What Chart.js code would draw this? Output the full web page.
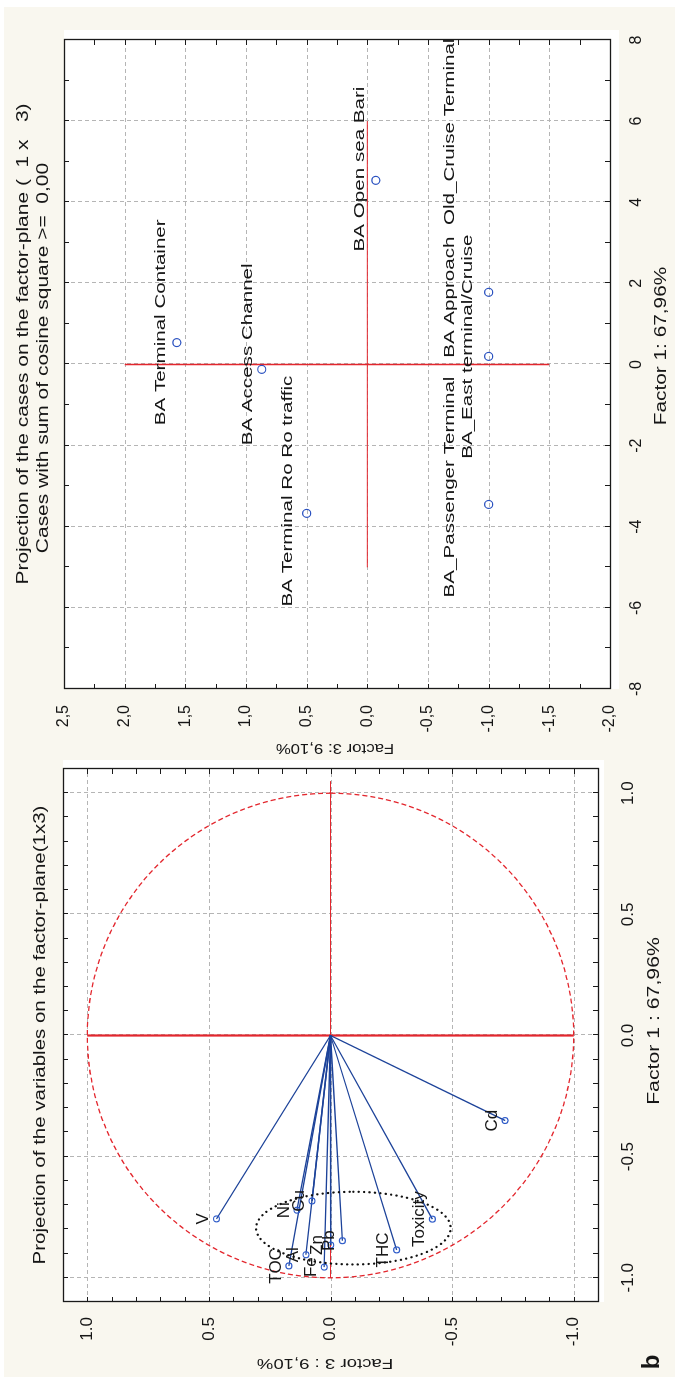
<!DOCTYPE html>
<html>
<head>
<meta charset="utf-8">
<script src="https://cdn.jsdelivr.net/npm/chart.js@4.4.1/dist/chart.umd.min.js"></script>
<style>
  html, body { margin: 0; padding: 0; width: 675px; height: 1380px; overflow: hidden; background: #fff; }
  #panel { position: absolute; left: 4px; top: 7px; width: 671px; height: 1370px; background: #f9f7ef; }
  /* the figure is drawn landscape and turned a quarter to the left */
  #wrap { position: absolute; left: 0; top: 0; width: 1380px; height: 675px;
          transform-origin: 0 0; transform: translateY(1380px) rotate(-90deg); }
  canvas { position: absolute; top: 0; }
  #varChart { left: 0; }
  #caseChart { left: 622px; }
</style>
</head>
<body>
<div id="panel"></div>
<div id="wrap">
  <canvas id="varChart" width="622" height="675"></canvas>
  <canvas id="caseChart" width="758" height="675"></canvas>
</div>
<script>
const FONT = '"Liberation Sans", Arial, sans-serif';
const RED = '#e3262d';
const GRID = '#b5b5b5';
const INK = '#161616';

// projection of the variables (factor 1 x factor 3)
const varNames = ['V', 'Ni', 'Cu', 'TOC', 'Al', 'Fe', 'Zn', 'Pb', 'THC', 'Toxicity', 'Cd'];
const varF1 = [-0.757, -0.721, -0.683, -0.951, -0.905, -0.956, -0.865, -0.847, -0.885, -0.758, -0.351];
const varF3 = [0.469, 0.138, 0.076, 0.171, 0.101, 0.026, -0.001, -0.049, -0.272, -0.419, -0.718];
const varTicks = [-1, -0.5, 0, 0.5, 1];
const varCrossF1 = [-1, 1.05];
const varCrossF3 = [-1, 1];
const clusterCentre = [-0.795, -0.094];
const clusterRadii = [0.15, 0.40];

// projection of the cases
const caseNames = ['BA Open sea Bari', 'BA Terminal Container', 'BA Access Channel',
  'BA Terminal Ro Ro traffic', 'BA_Passenger Terminal', 'BA Approach  Old_Cruise Terminal',
  'BA_East terminal/Cruise'];
const caseF1 = [4.54, 0.54, -0.12, -3.67, -3.45, 1.78, 0.20];
const caseF3 = [-0.07, 1.57, 0.87, 0.50, -1.00, -1.00, -1.00];
const caseLabelF1 = [4.82, 1.04, 0.25, -3.12, -3.02, 4.10, 0.44];
const caseLabelF3 = [0.06, 1.70, 0.98, 0.65, -0.68, -0.68, -0.83];
const caseTicksF1 = [-8, -6, -4, -2, 0, 2, 4, 6, 8];
const caseTicksF3 = [-2, -1.5, -1, -0.5, 0, 0.5, 1, 1.5, 2, 2.5];
const caseCrossF1 = [-5, 6];
const caseCrossF3 = [-1.5, 2];

function text(ctx, str, x, y, size, sx = 1, rot = 0, weight = '') {
  ctx.save();
  ctx.translate(x, y);
  if (rot) ctx.rotate(rot);
  ctx.scale(sx, 1);
  ctx.font = `${weight} ${size}px ${FONT}`;
  ctx.fillStyle = INK;
  ctx.textAlign = 'center';
  ctx.textBaseline = 'middle';
  ctx.fillText(str, 0, 0);
  ctx.restore();
}

function whiteBox(chart, extraX, extraY) {
  const { ctx, chartArea: a } = chart;
  ctx.save();
  ctx.fillStyle = '#fff';
  ctx.fillRect(a.left, a.top, a.width + extraX, a.height + extraY);
  ctx.restore();
}

function drawGrid(chart, xs, ys) {
  const { ctx, chartArea: a, scales: { x, y } } = chart;
  ctx.save();
  ctx.strokeStyle = GRID;
  ctx.lineWidth = 1;
  ctx.setLineDash([4, 3]);
  ctx.beginPath();
  xs.forEach(v => {
    const p = Math.round(x.getPixelForValue(v)) + 0.5;
    if (p > a.left + 2 && p < a.right - 2) { ctx.moveTo(p, a.top); ctx.lineTo(p, a.bottom); }
  });
  ys.forEach(v => {
    const p = Math.round(y.getPixelForValue(v)) + 0.5;
    if (p > a.top + 2 && p < a.bottom - 2) { ctx.moveTo(a.left, p); ctx.lineTo(a.right, p); }
  });
  ctx.stroke();
  ctx.restore();
}

function drawFrame(chart, stepX, stepY) {
  const { ctx, chartArea: a, scales: { x, y } } = chart;
  ctx.save();
  ctx.strokeStyle = '#1a1a1a';
  ctx.lineWidth = 1.3;
  ctx.strokeRect(a.left + 0.5, a.top + 0.5, a.width, a.height);
  ctx.lineWidth = 1;
  ctx.beginPath();
  for (let i = Math.ceil(x.min / stepX - 1e-6); i * stepX <= x.max + 1e-6; i++) {
    const p = Math.round(x.getPixelForValue(i * stepX)) + 0.5;
    ctx.moveTo(p, a.bottom); ctx.lineTo(p, a.bottom - 5);
    ctx.moveTo(p, a.top); ctx.lineTo(p, a.top + 5);
  }
  for (let i = Math.ceil(y.min / stepY - 1e-6); i * stepY <= y.max + 1e-6; i++) {
    const p = Math.round(y.getPixelForValue(i * stepY)) + 0.5;
    ctx.moveTo(a.left, p); ctx.lineTo(a.left + 5, p);
    ctx.moveTo(a.right, p); ctx.lineTo(a.right - 5, p);
  }
  ctx.stroke();
  ctx.restore();
}

function redLine(chart, x1, y1, x2, y2, w) {
  const { ctx, scales: { x, y } } = chart;
  ctx.save();
  ctx.strokeStyle = RED;
  ctx.lineWidth = w;
  ctx.beginPath();
  ctx.moveTo(x.getPixelForValue(x1), y.getPixelForValue(y1));
  ctx.lineTo(x.getPixelForValue(x2), y.getPixelForValue(y2));
  ctx.stroke();
  ctx.restore();
}

function axis(min, max, ticks, fmt, size, pad, fit) {
  return {
    type: 'linear', min, max,
    afterBuildTicks: s => { s.ticks = ticks.map(v => ({ value: v })); },
    afterFit: fit,
    grid: { display: false },
    border: { display: false },
    ticks: { color: INK, font: { family: FONT, size }, padding: pad, maxRotation: 0, autoSkip: false, callback: fmt }
  };
}

const varDecor = {
  id: 'varDecor',
  beforeDraw(chart) { whiteBox(chart, 9, 6); },
  beforeDatasetsDraw(chart) {
    const { ctx, scales: { x, y } } = chart;
    drawGrid(chart, varTicks, varTicks);
    const x0 = x.getPixelForValue(0), y0 = y.getPixelForValue(0);
    ctx.save();
    ctx.strokeStyle = RED;
    ctx.lineWidth = 1.3;
    ctx.setLineDash([5, 3]);
    ctx.beginPath();
    ctx.ellipse(x0, y0, x.getPixelForValue(1) - x0, y0 - y.getPixelForValue(1), 0, 0, Math.PI * 2);
    ctx.stroke();
    ctx.restore();
    redLine(chart, varCrossF1[0], 0, varCrossF1[1], 0, 1);
    redLine(chart, 0, varCrossF3[0], 0, varCrossF3[1], 2.2);
  },
  afterDatasetsDraw(chart) {
    const { ctx, scales: { x, y } } = chart;
    const cx = x.getPixelForValue(clusterCentre[0]), cy = y.getPixelForValue(clusterCentre[1]);
    ctx.save();
    ctx.strokeStyle = '#111';
    ctx.lineWidth = 2.3;
    ctx.lineCap = 'round';
    ctx.setLineDash([0.1, 5.3]);
    ctx.beginPath();
    ctx.ellipse(cx, cy, x.getPixelForValue(clusterRadii[0]) - x.getPixelForValue(0),
      y.getPixelForValue(0) - y.getPixelForValue(clusterRadii[1]), 0, 0, Math.PI * 2);
    ctx.stroke();
    ctx.restore();
    drawFrame(chart, 0.1, 0.1);
    varNames.forEach((n, i) => {
      text(ctx, n, x.getPixelForValue(varF1[i]), y.getPixelForValue(varF3[i]) - 13, 17);
    });
  },
  afterDraw(chart) {
    const { ctx } = chart;
    text(ctx, 'Projection of the variables on the factor-plane(1x3)', 345, 41, 16, 1.28);
    text(ctx, 'Factor 1 : 67,96%', 359, 654, 17, 1.25);
    text(ctx, 'Factor 3 : 9,10%', 17, 325, 15, 1.24, -Math.PI / 2);
    text(ctx, 'b', 18, 652, 24, 1, 0, 'bold');
  }
};

new Chart(document.getElementById('varChart'), {
  type: 'scatter',
  data: {
    datasets: varNames.map((n, i) => ({
      label: n,
      data: [{ x: 0, y: 0 }, { x: varF1[i], y: varF3[i] }],
      showLine: true,
      borderColor: '#1c4299',
      borderWidth: 1.3,
      pointRadius: [0, 3],
      pointBorderColor: '#2f5cc9',
      pointBackgroundColor: 'rgba(0,0,0,0)',
      pointBorderWidth: 1.1
    }))
  },
  options: {
    responsive: false,
    animation: false,
    layout: { padding: { left: 0, top: 63, right: 11, bottom: 0 } },
    plugins: { legend: { display: false }, tooltip: { enabled: false } },
    scales: {
      x: axis(-1.1, 1.1, varTicks, v => v.toFixed(1), 17, 12, s => { s.height = 77; }),
      y: axis(-1.1, 1.1, varTicks, v => v.toFixed(1), 17, 7, s => { s.width = 78; })
    }
  },
  plugins: [varDecor]
});

const caseDecor = {
  id: 'caseDecor',
  beforeDraw(chart) { whiteBox(chart, 10, 9); },
  beforeDatasetsDraw(chart) {
    drawGrid(chart, caseTicksF1, caseTicksF3);
    redLine(chart, caseCrossF1[0], 0, caseCrossF1[1], 0, 1);
    redLine(chart, 0, caseCrossF3[0], 0, caseCrossF3[1], 1.5);
  },
  afterDatasetsDraw(chart) {
    const { ctx, scales: { x, y } } = chart;
    drawFrame(chart, 1, 0.25);
    caseNames.forEach((n, i) => {
      text(ctx, n, x.getPixelForValue(caseLabelF1[i]), y.getPixelForValue(caseLabelF3[i]), 14.5, 1.42);
    });
  },
  afterDraw(chart) {
    const { ctx } = chart;
    text(ctx, 'Projection of the cases on the factor-plane (  1 x   3)', 414, 24, 16, 1.31);
    text(ctx, 'Cases with sum of cosine square >=  0,00', 400, 44, 16, 1.31);
    text(ctx, 'Factor 1: 67,96%', 412, 662, 16, 1.3);
    text(ctx, 'Factor 3: 9,10%', 10, 335, 14, 1.2, -Math.PI / 2);
  }
};

new Chart(document.getElementById('caseChart'), {
  type: 'scatter',
  data: {
    datasets: [{
      label: 'Cases',
      data: caseF1.map((v, i) => ({ x: v, y: caseF3[i] })),
      pointRadius: 4,
      pointBorderColor: '#2b52c0',
      pointBackgroundColor: 'rgba(0,0,0,0)',
      pointBorderWidth: 1.2
    }]
  },
  options: {
    responsive: false,
    animation: false,
    layout: { padding: { left: 0, top: 64, right: 40, bottom: 0 } },
    plugins: { legend: { display: false }, tooltip: { enabled: false } },
    scales: {
      x: axis(-8, 8, caseTicksF1, v => String(v), 16, 9, s => { s.height = 65; }),
      y: axis(-2, 2.5, caseTicksF3, v => v.toFixed(1).replace('.', ','), 16, 8, s => { s.width = 69; })
    }
  },
  plugins: [caseDecor]
});
</script>
</body>
</html>
